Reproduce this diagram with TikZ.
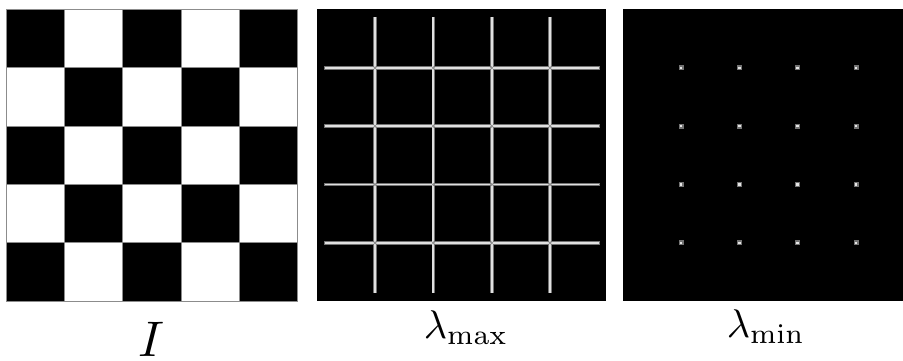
\documentclass[tikz,border=0pt]{standalone}
\usepackage{amsmath}
\begin{document}
\begin{tikzpicture}[x=1pt,y=-1pt,
  cellline/.style={draw=black!45,line width=0.8pt},
  ridgeedge/.style={draw=black!55,line width=3.6pt},
  ridgecore/.style={draw=black!12,line width=1.8pt},
  label/.style={inner sep=0pt,anchor=base,scale=4},
  biglabel/.style={inner sep=0pt,anchor=base,scale=5}]
  \useasboundingbox (0,0) rectangle (903,361);
  \def\cs{58.34}
  % checkerboard image I
  \fill[white] (6,9.5) rectangle (297.7,301);
  \foreach \i in {0,...,4}
    \foreach \j in {0,...,4} {
      \pgfmathtruncatemacro{\parity}{mod(\i+\j,2)}
      \ifnum\parity=0
        \fill[black] ({6+\i*\cs},{9.5+\j*\cs}) rectangle ++(\cs,\cs);
      \fi
    }
  \foreach \k in {1,...,4} {
    \draw[cellline] ({6+\k*\cs},9.5) -- ({6+\k*\cs},301);
    \draw[cellline] (6,{9.5+\k*\cs}) -- (297.7,{9.5+\k*\cs});
  }
  \draw[cellline] (6,9.5) rectangle (297.7,301);
  % largest eigenvalue response: ridges along the cell edges
  \fill[black] (316.7,9.5) rectangle (606,301);
  \foreach \k in {1,...,4} {
    \draw[ridgeedge] ({316.7+\k*\cs},16.7) -- ({316.7+\k*\cs},293.3);
    \draw[ridgeedge] (324,{9.5+\k*\cs}) -- (600,{9.5+\k*\cs});
  }
  \foreach \k in {1,...,4} {
    \draw[ridgecore] ({316.7+\k*\cs},17.5) -- ({316.7+\k*\cs},292.5);
    \draw[ridgecore] (324.8,{9.5+\k*\cs}) -- (599.2,{9.5+\k*\cs});
  }
  \foreach \i in {1,...,4}
    \foreach \j in {1,...,4}
      \fill[black!45] ({316.7+\i*\cs},{9.5+\j*\cs}) circle (1.6);
  % smallest eigenvalue response: peaks at the corners
  \fill[black] (622.7,9.5) rectangle (903,301);
  \foreach \i in {1,...,4}
    \foreach \j in {1,...,4} {
      \fill[black!55] ({622.7+\i*\cs-2.5},{9.5+\j*\cs-2.5}) rectangle ++(5,5);
      \fill[black!10] ({622.7+\i*\cs-1.3},{9.5+\j*\cs-1.3}) rectangle ++(2.6,2.6);
    }
  % captions
  \node[biglabel] (capI) at (151,356.5) {$I$};
  \node[label] (capmax) at (466,338) {$\lambda_{\max}$};
  \node[label] (capmin) at (766,337.5) {$\lambda_{\min}$};
\end{tikzpicture}
\end{document}
